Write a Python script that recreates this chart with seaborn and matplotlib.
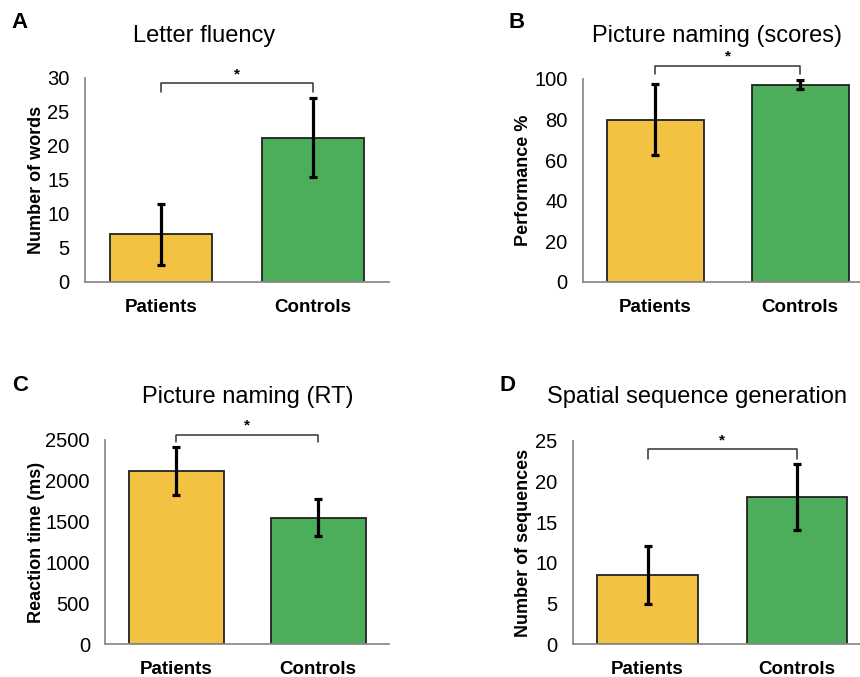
import seaborn as sns
import matplotlib.pyplot as plt
import pandas as pd

# groups and colours
GROUPS = ['Patients', 'Controls']
COLORS = ['#F4C243', '#4CAE5B']

# panel A - letter fluency
fluency_mean = [7.0, 21.2]
fluency_err = [4.5, 5.8]
# panel B - picture naming scores
naming_mean = [80.0, 97.2]
naming_err = [17.5, 2.3]
# panel C - picture naming RT
rt_mean = [2120, 1550]
rt_err = [290, 225]
# panel D - spatial sequence generation
seq_mean = [8.5, 18.1]
seq_err = [3.6, 4.1]

panels = [
    # letter, title, ylabel, means, errs, ylim, yticks, bracket (y, leg), axes rect, ylabel x
    ('A', 'Letter fluency', 'Number of words', fluency_mean, fluency_err,
     30, [0, 5, 10, 15, 20, 25, 30], (29.2, 27.9), [0.0988, 0.5835, 0.3535, 0.3013], -0.130),
    ('B', 'Picture naming (scores)', 'Performance %', naming_mean, naming_err,
     100, [0, 20, 40, 60, 80, 100], (106.4, 102.5), [0.6776, 0.5835, 0.3372, 0.2999], -0.176),
    ('C', 'Picture naming (RT)', 'Reaction time (ms)', rt_mean, rt_err,
     2500, [0, 500, 1000, 1500, 2000, 2500], (2565, 2470), [0.1224, 0.0483, 0.3302, 0.3018], -0.211),
    ('D', 'Spatial sequence generation', 'Number of sequences', seq_mean, seq_err,
     25, [0, 5, 10, 15, 20, 25], (24.0, 22.8), [0.666, 0.0483, 0.348, 0.3003], -0.137),
]

title_pos = {'A': (0.237, 0.947), 'B': (0.834, 0.947), 'C': (0.288, 0.4136), 'D': (0.810, 0.4136)}
letter_pos = {'A': (0.023, 0.967), 'B': (0.601, 0.967), 'C': (0.023, 0.431), 'D': (0.590, 0.431)}

sns.set_theme(style='white')
plt.rcParams['font.family'] = ['Liberation Sans', 'DejaVu Sans']
plt.rcParams['text.color'] = 'black'
plt.rcParams['axes.labelcolor'] = 'black'
plt.rcParams['xtick.color'] = 'black'
plt.rcParams['ytick.color'] = 'black'

fig = plt.figure(figsize=(8.6, 6.77), dpi=100)

for letter, title, ylabel, means, errs, ymax, yticks, bracket, rect, ylx in panels:
    ax = fig.add_axes(rect)
    df = pd.DataFrame({'group': GROUPS, 'value': means})
    sns.barplot(data=df, x='group', y='value', hue='group', palette=COLORS, saturation=1,
                width=0.67, edgecolor='#222222', linewidth=1.3, legend=False, ax=ax)
    ax.errorbar(range(len(GROUPS)), means, yerr=errs, fmt='none', ecolor='black',
                elinewidth=2.3, capsize=3, capthick=2.3, zorder=5)
    ax.set_xlim(-0.5, 1.5)
    ax.set_ylim(0, ymax)
    ax.set_yticks(yticks)
    ax.set_xlabel('')
    ax.set_ylabel(ylabel, fontsize=13, fontweight='bold')
    ax.yaxis.set_label_coords(ylx, 0.5)
    ax.tick_params(axis='both', length=0)
    ax.tick_params(axis='y', labelsize=14.5, pad=11)
    ax.tick_params(axis='x', labelsize=13.5, pad=12)
    for lab in ax.get_xticklabels():
        lab.set_fontweight('bold')
    sns.despine(ax=ax)
    for side in ['left', 'bottom']:
        ax.spines[side].set_color('#8c8c8c')
        ax.spines[side].set_linewidth(1.3)

    # significance bracket
    top, leg = bracket
    ax.plot([0, 0, 1, 1], [leg, top, top, leg], color='#333333', lw=1.1, clip_on=False)
    ax.text(0.5, top + (ymax * 0.01), '*', ha='center', va='bottom', fontsize=11,
            fontweight='bold', clip_on=False)

    fig.text(*title_pos[letter], title, ha='center', va='center', fontsize=17)
    fig.text(*letter_pos[letter], letter, ha='center', va='center', fontsize=16, fontweight='bold')

fig.savefig('out.png', dpi=100)
